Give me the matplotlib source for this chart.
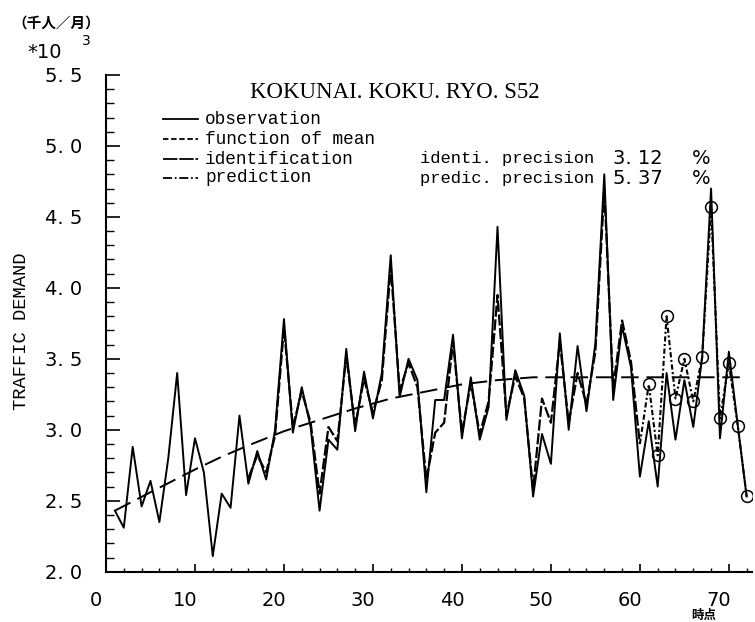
import matplotlib
matplotlib.use("Agg")
import matplotlib.pyplot as plt
import matplotlib.transforms as mtransforms
from matplotlib.lines import Line2D
from matplotlib.ticker import MultipleLocator, FixedLocator

# Observed traffic demand (x 10^3), time points 1..72
OBS_T = list(range(1, 73))
OBS = [
    2.43, 2.31, 2.88, 2.46, 2.64, 2.35, 2.80, 3.40, 2.54, 2.94,
    2.70, 2.11, 2.55, 2.45, 3.10, 2.62, 2.85, 2.65, 3.00, 3.78,
    2.98, 3.30, 3.02, 2.43, 2.93, 2.86, 3.57, 2.99, 3.41, 3.08,
    3.40, 4.23, 3.23, 3.50, 3.35, 2.56, 3.21, 3.21, 3.67, 2.94,
    3.37, 2.93, 3.16, 4.43, 3.07, 3.42, 3.24, 2.53, 2.97, 2.76,
    3.68, 3.00, 3.59, 3.13, 3.61, 4.80, 3.21, 3.73, 3.44, 2.67,
    3.06, 2.60, 3.40, 2.93, 3.35, 3.02, 3.51, 4.70, 2.94, 3.55,
    3.03, 2.53,
]

# function of mean (read at a few points along the smooth curve)
MEAN_T = [1, 5, 10, 13, 16, 20, 24, 28, 32, 36, 40, 44, 48, 72]
MEAN = [2.43, 2.56, 2.72, 2.81, 2.89, 2.99, 3.07, 3.15, 3.22, 3.27,
        3.32, 3.35, 3.37, 3.37]

# identification, t = 16..60
IDENT_T = list(range(16, 61))
IDENT = [
    2.66, 2.82, 2.70, 2.96, 3.72, 3.02, 3.27, 3.05, 2.55, 3.02,
    2.92, 3.52, 3.03, 3.36, 3.12, 3.35, 4.15, 3.28, 3.47, 3.30,
    2.65, 2.98, 3.05, 3.62, 2.98, 3.33, 2.97, 3.20, 3.95, 3.10,
    3.38, 3.22, 2.58, 3.22, 3.05, 3.62, 3.05, 3.40, 3.18, 3.55,
    4.70, 3.30, 3.77, 3.48, 2.90,
]

# prediction, t = 60..72 (circles from t = 61)
PRED_T = list(range(60, 73))
PRED = [2.90, 3.32, 2.82, 3.80, 3.22, 3.50, 3.20, 3.51, 4.57, 3.08,
        3.47, 3.03, 2.53]

X_TICKS = [0, 10, 20, 30, 40, 50, 60, 70]
Y_TICKS = [2.0, 2.5, 3.0, 3.5, 4.0, 4.5, 5.0, 5.5]

W, H = 755, 622
MONO = ["Liberation Mono", "DejaVu Sans Mono"]
NARROW = ["Liberation Sans Narrow", "DejaVu Sans"]
CJK = ["Noto Sans CJK JP", "DejaVu Sans"]


def fx(px):
    return px / W


def fy(py):
    return 1 - py / H


fig = plt.figure(figsize=(W / 100, H / 100), dpi=100)
ax = fig.add_axes([fx(106), fy(571.7), fx(752) - fx(106), fy(75) - fy(571.7)])

ax.plot(OBS_T, OBS, color="black", lw=1.4)
ax.plot(MEAN_T, MEAN, color="black", lw=1.4, dashes=(9, 4))
ax.plot(IDENT_T, IDENT, color="black", lw=1.6, dashes=(5, 1.2))
ax.plot(PRED_T, PRED, color="black", lw=1.5, dashes=(2.5, 1.2, 1, 1.2))
ax.plot(PRED_T[1:], PRED[1:], ls="none", marker="o", ms=8.5,
        mfc="none", mec="black", mew=1.1)

ax.set_xlim(0, 72.6)
ax.set_ylim(2.0, 5.5)

for side in ("top", "right"):
    ax.spines[side].set_visible(False)
for side in ("left", "bottom"):
    ax.spines[side].set_linewidth(1.5)

ax.xaxis.set_major_locator(FixedLocator(X_TICKS))
ax.xaxis.set_minor_locator(MultipleLocator(2))
ax.yaxis.set_major_locator(FixedLocator(Y_TICKS))
ax.yaxis.set_minor_locator(MultipleLocator(0.1))
ax.set_xticklabels([str(v) for v in X_TICKS], family=NARROW, fontsize=14)
ax.set_yticklabels([f"{v:.1f}".replace(".", ". ") for v in Y_TICKS],
                   family=NARROW, fontsize=14)

ax.tick_params(axis="y", which="major", direction="in", length=10, width=1.2, pad=17)
ax.tick_params(axis="y", which="minor", direction="in", length=5.5, width=1.0)
ax.tick_params(axis="x", which="major", direction="in", length=6, width=1.2, pad=14)
ax.tick_params(axis="x", which="minor", direction="in", length=3, width=1.0)

# x tick labels sit a little left of their ticks in the original
shift = mtransforms.ScaledTranslation(-10 / 100, 0, fig.dpi_scale_trans)
for lab in ax.get_xticklabels():
    lab.set_transform(lab.get_transform() + shift)

# title and legend
fig.text(fx(250), fy(93), "KOKUNAI. KOKU. RYO. S52", family="Liberation Serif",
         fontsize=16.5, ha="left", va="center")

rows = [119, 139, 159, 178]
labels = ["observation", "function of mean", "identification", "prediction"]
styles = [dict(), dict(dashes=(3, 1.5)), dict(dashes=(8, 1)), dict(dashes=(5, 1.5, 1, 1.5))]
for py, lab, st in zip(rows, labels, styles):
    fig.add_artist(Line2D([fx(163), fx(198)], [fy(py), fy(py)], color="black",
                          lw=1.3, transform=fig.transFigure, **st))
    fig.text(fx(205), fy(py), lab, family=MONO, fontsize=12.8, ha="left", va="center")

fig.text(fx(420), fy(159), "identi. precision", family=MONO, fontsize=12.3,
         ha="left", va="center")
fig.text(fx(420), fy(178), "predic. precision", family=MONO, fontsize=12.3,
         ha="left", va="center")
fig.text(fx(613), fy(159), "3. 12", family=NARROW, fontsize=14, ha="left", va="center")
fig.text(fx(613), fy(178), "5. 37", family=NARROW, fontsize=14, ha="left", va="center")
fig.text(fx(692), fy(159), "%", family=NARROW, fontsize=14, ha="left", va="center")
fig.text(fx(692), fy(178), "%", family=NARROW, fontsize=14, ha="left", va="center")

# unit and axis labels
fig.text(fx(12), fy(23), "（千人／月）", family=CJK, fontsize=10.5, fontweight="bold",
         ha="left", va="center")
fig.text(fx(27), fy(53), "*10", family=NARROW, fontsize=14, ha="left", va="center")
fig.text(fx(82), fy(41), "3", family=NARROW, fontsize=10, ha="left", va="center")
fig.text(fx(22), fy(331), "TRAFFIC DEMAND", family=MONO, fontsize=13.5,
         rotation=90, ha="center", va="center")
fig.text(fx(704), fy(615), "時点", family=CJK, fontsize=9, fontweight="bold",
         ha="center", va="center")

fig.savefig("out.png", dpi=100)
